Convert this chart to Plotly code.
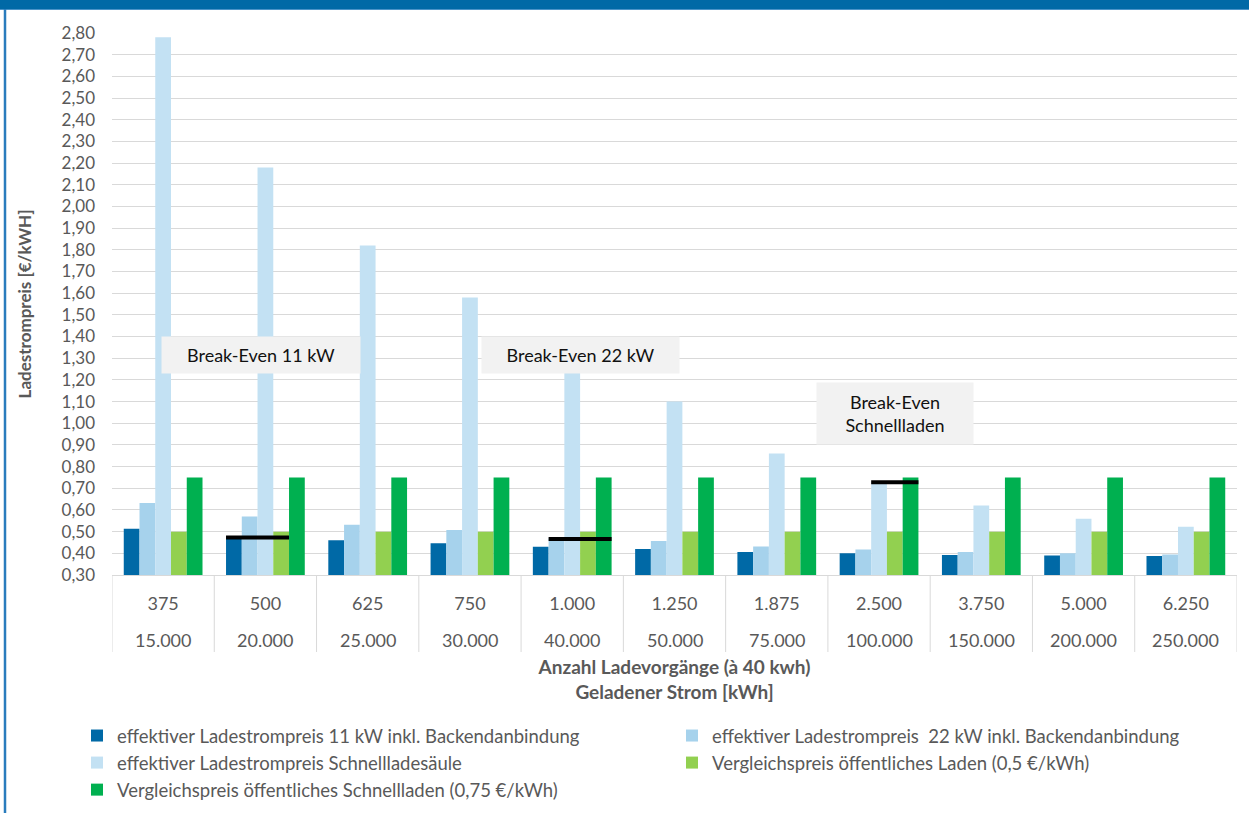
import plotly.graph_objects as go

# Kategorien: Anzahl Ladevorgänge (à 40 kWh) und geladener Strom
ladevorgaenge = ["375", "500", "625", "750", "1.000", "1.250", "1.875", "2.500", "3.750", "5.000", "6.250"]
geladener_strom = ["15.000", "20.000", "25.000", "30.000", "40.000", "50.000", "75.000",
                   "100.000", "150.000", "200.000", "250.000"]

# Ladestrompreise in €/kWh
preis_11kw = [0.513, 0.48, 0.46, 0.446, 0.43, 0.42, 0.406, 0.40, 0.392, 0.39, 0.388]
preis_22kw = [0.632, 0.57, 0.532, 0.507, 0.47, 0.457, 0.432, 0.418, 0.406, 0.40, 0.395]
preis_schnell = [2.78, 2.18, 1.82, 1.58, 1.28, 1.10, 0.86, 0.73, 0.62, 0.56, 0.523]
vergleich_laden = [0.50, 0.50, 0.50, 0.50, 0.50, 0.50, 0.50, 0.50, 0.50, 0.50, 0.50]
vergleich_schnell = [0.75, 0.75, 0.75, 0.75, 0.75, 0.75, 0.75, 0.75, 0.75, 0.75, 0.75]

serien_namen = [
    "effektiver Ladestrompreis 11 kW inkl. Backendanbindung",
    "effektiver Ladestrompreis  22 kW inkl. Backendanbindung",
    "effektiver Ladestrompreis Schnellladesäule",
    "Vergleichspreis öffentliches Laden (0,5 €/kWh)",
    "Vergleichspreis öffentliches Schnellladen (0,75 €/kWh)",
]
serien_werte = [preis_11kw, preis_22kw, preis_schnell, vergleich_laden, vergleich_schnell]
serien_farben = ["#0069A6", "#A6D2EC", "#C3E1F3", "#92D050", "#00B050"]

# Break-Even-Markierungen: Kategorie, Preis, erster und letzter überdeckter Balken
break_even_kategorie = ["500", "1.000", "2.500"]
break_even_preis = [0.473, 0.466, 0.728]
break_even_von_balken = [0, 1, 2]
break_even_bis_balken = [3, 4, 4]

break_even_texte = ["Break-Even 11 kW", "Break-Even 22 kW", "Break-Even<br>Schnellladen"]

W, H = 1249, 813
M_L, M_R, M_T, M_B = 112, 12, 33, 238
PW, PH = W - M_L - M_R, H - M_T - M_B
BARGAP = 0.23
FONT = "Lato"
GRAU = "#595959"
LINIE = "#D9D9D9"
BLAU = "#0069A6"


def px_x(p):
    return (p - M_L) / PW


def px_y(p):
    return (H - M_B - p) / PH


fig = go.Figure()
for name, werte, farbe in zip(serien_namen, serien_werte, serien_farben):
    fig.add_trace(go.Bar(x=ladevorgaenge, y=werte, name=name,
                         marker=dict(color=farbe, line=dict(width=0))))

shapes = []
# Trennlinien der Kategorienbeschriftung
for i in range(len(ladevorgaenge) + 1):
    shapes.append(dict(type="line", xref="x", yref="paper", x0=i - 0.5, x1=i - 0.5,
                       y0=0, y1=-77 / PH, line=dict(color=LINIE, width=1)))

# Break-Even-Linien über den Balken
n = len(serien_namen)
bw = (1 - BARGAP) / n
for kat, wert, a, b in zip(break_even_kategorie, break_even_preis,
                           break_even_von_balken, break_even_bis_balken):
    idx = ladevorgaenge.index(kat)
    start = idx - (1 - BARGAP) / 2
    shapes.append(dict(type="line", xref="x", yref="y",
                       x0=start + a * bw, x1=start + (b + 1) * bw, y0=wert, y1=wert,
                       line=dict(color="black", width=4)))

# Kopfband und linker Rahmen
shapes.append(dict(type="rect", xref="paper", yref="paper", x0=px_x(0), x1=px_x(W),
                   y0=px_y(9), y1=px_y(0), fillcolor=BLAU, line=dict(width=0)))
shapes.append(dict(type="line", xref="paper", yref="paper", x0=px_x(0), x1=px_x(W),
                   y0=px_y(9.5), y1=px_y(9.5), line=dict(color="#4A93C8", width=1)))
shapes.append(dict(type="line", xref="paper", yref="paper", x0=px_x(5), x1=px_x(5),
                   y0=px_y(9), y1=px_y(H), line=dict(color="#2A7CBD", width=2.5)))

annotations = []
# Zweite Beschriftungszeile: geladener Strom je Kategorie (Position über den Kategorienindex)
for i, strom in enumerate(geladener_strom):
    annotations.append(dict(text=strom, xref="x", yref="paper", x=i, y=px_y(640),
                            xanchor="center", yanchor="middle", showarrow=False,
                            font=dict(family=FONT, size=18, color=GRAU)))

box_pos = [(261, 354.5, 198, 36), (580.5, 354.5, 197, 36), (895, 413, 156, 61)]
for text, (cx, cy, bwid, bhgt) in zip(break_even_texte, box_pos):
    annotations.append(dict(text=text, xref="paper", yref="paper", x=px_x(cx), y=px_y(cy),
                            xanchor="center", yanchor="middle", showarrow=False,
                            bgcolor="#F2F2F2", width=bwid, height=bhgt, borderpad=0,
                            font=dict(family=FONT, size=18, color="#111111")))

fig.update_layout(
    width=W, height=H,
    margin=dict(l=M_L, r=M_R, t=M_T, b=M_B, autoexpand=False),
    paper_bgcolor="white", plot_bgcolor="white",
    barmode="group", bargap=BARGAP, bargroupgap=0,
    separators=",.",
    font=dict(family=FONT, size=17, color=GRAU),
    shapes=shapes,
    annotations=annotations,
    xaxis=dict(type="category", range=[-0.5, len(ladevorgaenge) - 0.5],
               showline=True, linecolor=LINIE, linewidth=1,
               ticks="", showgrid=False, tickfont=dict(family=FONT, size=18, color=GRAU),
               ticklabelstandoff=12,
               title=dict(text="<b>Anzahl Ladevorgänge (à 40 kwh)<br>Geladener Strom [kWh]</b>",
                          font=dict(family=FONT, size=19, color=GRAU), standoff=48)),
    yaxis=dict(range=[0.3, 2.8], tick0=0, dtick=0.1, tickformat=".2f",
               showgrid=True, gridcolor=LINIE, gridwidth=1, zeroline=False, showline=False,
               ticks="", ticklabelstandoff=16,
               tickfont=dict(family=FONT, size=17, color=GRAU),
               title=dict(text="<b>Ladestrompreis [€/kWH]</b>",
                          font=dict(family=FONT, size=17, color=GRAU), standoff=25)),
    legend=dict(orientation="h", x=px_x(77), xanchor="left", y=px_y(717), yanchor="top",
                entrywidth=550, entrywidthmode="pixels", traceorder="normal",
                font=dict(family=FONT, size=18.5, color=GRAU), bgcolor="rgba(0,0,0,0)"),
)

fig.write_html("out.html")
